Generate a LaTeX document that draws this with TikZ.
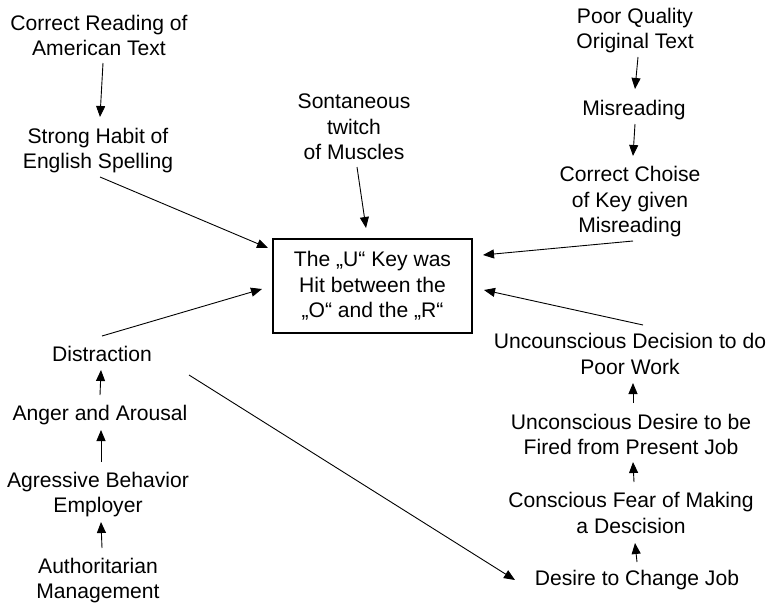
\documentclass[tikz,border=0pt]{standalone}
\usepackage{fontspec}
\setmainfont{Liberation Sans}
\usetikzlibrary{arrows.meta,calc}
\begin{document}
\begin{tikzpicture}[x=1pt,y=-1pt,
  lbl/.style={align=center,inner sep=0pt,font=\fontsize{21.1}{25.5}\selectfont},
  keybox/.style={lbl,draw,line width=1.2pt,minimum width=199pt,minimum height=94pt},
  arr/.style={line width=0.9pt,-{Triangle[length=11pt,width=9pt]}}]
\useasboundingbox (0,0) rectangle (768,605);

% central event
\node[keybox] (box) at (372.5,286) {The „U“ Key was\\Hit between the\\„O“ and the „R“};

% upper left chain
\node[lbl] (cr) at (99,35.5) {Correct Reading of\\American Text};
\node[lbl] (sh) at (98,150.5) {Strong Habit of\\English Spelling};

% top middle
\node[lbl] (mus) at (354,127) {Sontaneous\\twitch\\of Muscles};

% upper right chain
\node[lbl] (pq) at (635,30.5) {Poor Quality\\Original Text};
\node[lbl] (mis) at (634,110) {Misreading};
\node[lbl] (cc) at (630,202) {Correct Choise\\of Key given\\Misreading};

% lower right chain
\node[lbl] (ud) at (630,354) {Uncounscious Decision to do\\Poor Work};
\node[lbl] (uf) at (631,434.5) {Unconscious Desire to be\\Fired from Present Job};
\node[lbl] (cf) at (631,513) {Conscious Fear of Making\\a Descision};
\node[lbl] (dc) at (637,580) {Desire to Change Job};

% lower left chain
\node[lbl] (di) at (102,354) {Distraction};
\node[lbl] (ag) at (100,415) {Anger and Arousal};
\node[lbl] (ab) at (98,494.5) {Agressive Behavior\\Employer};
\node[lbl] (am) at (98,580.5) {Authoritarian\\Management};

% connectors
\draw[arr] ($(cr)+(4,27.5)$) -- ($(sh)+(2,-33.5)$);
\draw[arr] ($(sh)+(2,26.5)$) -- ($(box)+(-104.5,-38)$);
\draw[arr] ($(mus)+(3,40)$) -- ($(box)+(-6.5,-58)$);
\draw[arr] ($(di)+(0,-18)$) -- ($(box)+(-110.5,3)$);

\draw[arr] ($(pq)+(3,26.5)$) -- ($(mis)+(1,-21)$);
\draw[arr] ($(mis)+(1,14)$) -- ($(cc)+(3,-46)$);
\draw[arr] ($(cc)+(3,39)$) -- ($(box)+(110.5,-31)$);
\draw[arr] ($(ud)+(13,-29)$) -- ($(box)+(111.5,4)$);

\draw[arr] ($(uf)+(2,-31.5)$) -- ($(ud)+(3,29)$);
\draw[arr] ($(cf)+(3,-31)$) -- ($(uf)+(2,27.5)$);
\draw[arr] ($(dc)+(0,-18)$) -- ($(cf)+(4,30)$);

\draw[arr] ($(ag)+(0,-20)$) -- ($(di)+(-1,16)$);
\draw[arr] ($(ab)+(3,-32.5)$) -- ($(ag)+(1,15)$);
\draw[arr] ($(am)+(4,-32.5)$) -- ($(ab)+(3,27.5)$);

\draw[arr] ($(di)+(87,21)$) -- ($(dc)+(-122,0)$);
\end{tikzpicture}
\end{document}
